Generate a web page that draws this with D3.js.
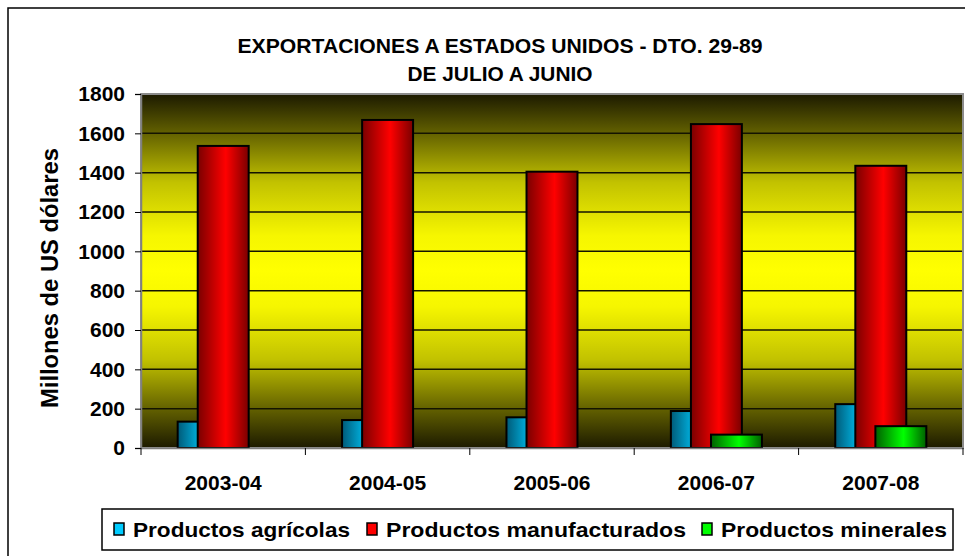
<!DOCTYPE html>
<html>
<head>
<meta charset="utf-8">
<script src="https://cdn.jsdelivr.net/npm/d3@7"></script>
<style>
  body { margin: 0; background: #fff; }
  text { font-family: "Liberation Sans", Arial, sans-serif; font-weight: bold; fill: #000; }
</style>
</head>
<body>
<div id="chart"></div>
<script>
// data
var categories = ["2003-04", "2004-05", "2005-06", "2006-07", "2007-08"];
var seriesNames = ["Productos agrícolas", "Productos manufacturados", "Productos minerales"];
var agricolas = [134, 142, 156, 188, 223];
var manufacturados = [1536, 1668, 1405, 1647, 1435];
var minerales = [0, 0, 0, 68, 111];
var yTicks = [0, 200, 400, 600, 800, 1000, 1200, 1400, 1600, 1800];
var titleLines = ["EXPORTACIONES A ESTADOS UNIDOS - DTO. 29-89", "DE JULIO A JUNIO"];
var yTitle = "Millones de US dólares";

var width = 965, height = 556;
var plot = { left: 141, right: 963, top: 94, bottom: 448 };

var svg = d3.select('#chart')
    .append('svg')
    .attr('width', width)
    .attr('height', height);

var defs = svg.append('defs');

// plot area background: dark - yellow - dark
var bg = defs.append('linearGradient')
    .attr('id', 'bg')
    .attr('x1', 0).attr('y1', 0).attr('x2', 0).attr('y2', 1);
[[0, '#1c1a00'], [0.1, '#5c5a00'], [0.25, '#c2c200'], [0.4, '#f6f600'], [0.5, '#ffff00'],
 [0.6, '#f6f600'], [0.75, '#c2c200'], [0.9, '#5c5a00'], [1, '#1c1a00']].forEach(function (s) {
    bg.append('stop').attr('offset', s[0]).attr('stop-color', s[1]);
});

// horizontal bar gradients
var barColors = [
    { id: 'gBlue', dark: '#005a78', light: '#00ccff' },
    { id: 'gRed', dark: '#7a0000', light: '#ff0000' },
    { id: 'gGreen', dark: '#006000', light: '#00ff00' }
];
barColors.forEach(function (c) {
    var g = defs.append('linearGradient')
        .attr('id', c.id)
        .attr('x1', 0).attr('y1', 0).attr('x2', 1).attr('y2', 0);
    g.append('stop').attr('offset', 0).attr('stop-color', c.dark);
    g.append('stop').attr('offset', 0.55).attr('stop-color', c.light);
    g.append('stop').attr('offset', 1).attr('stop-color', c.dark);
});

// outer frame (runs off the right and bottom edge like the original)
svg.append('rect')
    .attr('x', 8).attr('y', 8)
    .attr('width', 970).attr('height', 560)
    .attr('fill', 'none')
    .attr('stroke', '#000')
    .attr('stroke-width', 1.5);

var x = d3.scaleBand()
    .domain(categories)
    .range([plot.left, plot.right])
    .padding(0);

var y = d3.scaleLinear()
    .domain([0, 1800])
    .range([plot.bottom, plot.top]);

svg.append('rect')
    .attr('x', plot.left).attr('y', plot.top)
    .attr('width', plot.right - plot.left)
    .attr('height', plot.bottom - plot.top)
    .attr('fill', 'url(#bg)');

// gridlines
svg.append('g')
    .selectAll('line')
    .data(yTicks.filter(function (d) { return d > 0 && d < 1800; }))
    .enter()
    .append('line')
    .attr('x1', plot.left).attr('x2', plot.right)
    .attr('y1', function (d) { return y(d); })
    .attr('y2', function (d) { return y(d); })
    .attr('stroke', '#141400')
    .attr('stroke-width', 1.5);

// plot border
svg.append('rect')
    .attr('x', plot.left).attr('y', plot.top)
    .attr('width', plot.right - plot.left)
    .attr('height', plot.bottom - plot.top)
    .attr('fill', 'none')
    .attr('stroke', '#8c8c8c')
    .attr('stroke-width', 2);

// bars, overlapping like Excel
var series = [agricolas, manufacturados, minerales];
var barW = x.bandwidth() * 0.31;
var step = x.bandwidth() * 0.122;
var groupW = barW + step * 2;

series.forEach(function (vals, i) {
    svg.append('g')
        .selectAll('rect')
        .data(vals.map(function (v, j) { return { cat: categories[j], v: v }; })
            .filter(function (d) { return d.v > 0; }))
        .enter()
        .append('rect')
        .attr('x', function (d) { return x(d.cat) + x.bandwidth() / 2 - groupW / 2 + i * step; })
        .attr('y', function (d) { return y(d.v); })
        .attr('width', barW)
        .attr('height', function (d) { return y(0) - y(d.v); })
        .attr('fill', 'url(#' + barColors[i].id + ')')
        .attr('stroke', '#000')
        .attr('stroke-width', 2);
});

// y axis
var yAxis = svg.append('g')
    .attr('transform', 'translate(' + plot.left + ',0)')
    .call(d3.axisLeft(y).tickValues(yTicks).tickFormat(d3.format('d')).tickSize(6).tickPadding(10));
yAxis.select('.domain').attr('stroke', '#808080').attr('stroke-width', 1.5);
yAxis.selectAll('.tick line').attr('stroke', '#000');
yAxis.selectAll('.tick text')
    .attr('font-size', '21px')
    .attr('font-family', '"Liberation Sans", Arial, sans-serif')
    .attr('font-weight', 'bold');

// x axis
var xAxis = svg.append('g')
    .attr('transform', 'translate(0,' + plot.bottom + ')')
    .call(d3.axisBottom(x).tickSize(0).tickPadding(27));
xAxis.select('.domain').attr('stroke', '#808080').attr('stroke-width', 1.5);
xAxis.selectAll('.tick text')
    .attr('font-size', '21px')
    .attr('font-family', '"Liberation Sans", Arial, sans-serif')
    .attr('font-weight', 'bold');
xAxis.selectAll('.sep')
    .data(categories.concat(['end']))
    .enter()
    .append('line')
    .attr('x1', function (d, i) { return plot.left + i * x.bandwidth(); })
    .attr('x2', function (d, i) { return plot.left + i * x.bandwidth(); })
    .attr('y1', 0).attr('y2', 7)
    .attr('stroke', '#000');

// titles
svg.selectAll('.title')
    .data(titleLines)
    .enter()
    .append('text')
    .attr('x', 500)
    .attr('y', function (d, i) { return 53 + i * 28; })
    .attr('text-anchor', 'middle')
    .attr('font-size', '21px')
    .attr('textLength', function (d, i) { return i === 0 ? 525 : 185; })
    .attr('lengthAdjust', 'spacingAndGlyphs')
    .text(function (d) { return d; });

svg.append('text')
    .attr('transform', 'translate(58,278) rotate(-90)')
    .attr('text-anchor', 'middle')
    .attr('font-size', '23px')
    .attr('textLength', 260)
    .attr('lengthAdjust', 'spacingAndGlyphs')
    .text(yTitle);

// legend
var legend = svg.append('g');
legend.append('rect')
    .attr('x', 102).attr('y', 509)
    .attr('width', 851).attr('height', 41)
    .attr('fill', '#fff')
    .attr('stroke', '#000')
    .attr('stroke-width', 1.5);

var legendX = [133, 386, 721];
var legendW = [217, 300, 226];
seriesNames.forEach(function (name, i) {
    legend.append('rect')
        .attr('x', legendX[i] - 19).attr('y', 523)
        .attr('width', 10).attr('height', 12)
        .attr('fill', barColors[i].light)
        .attr('stroke', '#000')
        .attr('stroke-width', 1.5);
    legend.append('text')
        .attr('x', legendX[i])
        .attr('y', 537)
        .attr('font-size', '21px')
        .attr('textLength', legendW[i])
        .attr('lengthAdjust', 'spacingAndGlyphs')
        .text(name);
});
</script>
</body>
</html>
